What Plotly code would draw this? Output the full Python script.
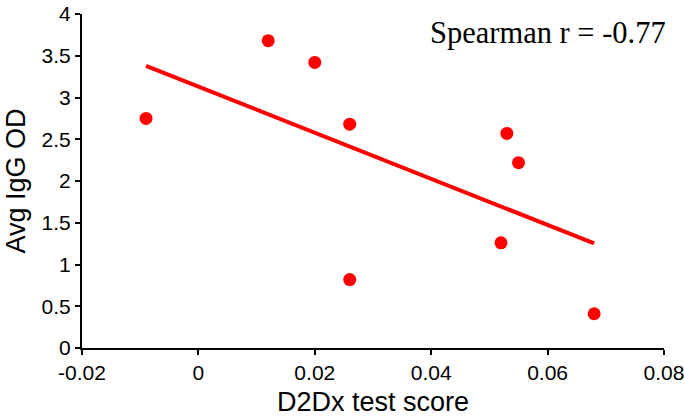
import numpy as np
import plotly.graph_objects as go

# Data
d2dx_score = [-0.009, 0.012, 0.020, 0.026, 0.026, 0.053, 0.055, 0.052, 0.068]
avg_igg_od = [2.75, 3.68, 3.42, 2.68, 0.82, 2.57, 2.22, 1.26, 0.41]

x_tickvals = [-0.02, 0, 0.02, 0.04, 0.06, 0.08]
x_ticktext = ["-0.02", "0", "0.02", "0.04", "0.06", "0.08"]
y_tickvals = [0, 0.5, 1, 1.5, 2, 2.5, 3, 3.5, 4]
y_ticktext = ["0", "0.5", "1", "1.5", "2", "2.5", "3", "3.5", "4"]

annotation_text = "Spearman r = -0.77"

# Linear trendline fitted to the data
slope, intercept = np.polyfit(d2dx_score, avg_igg_od, 1)
fit_x = [min(d2dx_score), max(d2dx_score)]
fit_y = [slope * v + intercept for v in fit_x]

fig = go.Figure()
fig.add_trace(go.Scatter(
    x=fit_x, y=fit_y, mode="lines",
    line=dict(color="#ff0000", width=4),
    hoverinfo="skip", showlegend=False,
))
fig.add_trace(go.Scatter(
    x=d2dx_score, y=avg_igg_od, mode="markers",
    marker=dict(color="#ff0000", size=13, line=dict(width=0)),
    showlegend=False,
))

axis_font = dict(family="Liberation Sans, Arial, sans-serif", size=21, color="black")
title_font = dict(family="Liberation Sans, Arial, sans-serif", size=27, color="black")

fig.update_layout(
    template="none",
    width=685, height=420,
    margin=dict(l=82, r=21, t=14, b=72, pad=0),
    paper_bgcolor="white", plot_bgcolor="white",
    xaxis=dict(
        range=[-0.02, 0.08], tickvals=x_tickvals, ticktext=x_ticktext,
        showline=True, linecolor="black", linewidth=2,
        ticks="outside", ticklen=5, tickwidth=2, tickcolor="black",
        showgrid=False, zeroline=False, tickfont=axis_font, automargin=False,
        ticklabeloverflow="allow",
        title=dict(text="D2Dx test score", font=title_font, standoff=9),
    ),
    yaxis=dict(
        range=[0, 4], tickvals=y_tickvals, ticktext=y_ticktext,
        showline=True, linecolor="black", linewidth=2,
        ticks="outside", ticklen=5, tickwidth=2, tickcolor="black",
        showgrid=False, zeroline=False, tickfont=axis_font, automargin=False,
        ticklabeloverflow="allow",
        title=dict(text="Avg IgG OD", font=title_font, standoff=8),
    ),
    annotations=[dict(
        text=annotation_text, xref="paper", yref="paper",
        x=1.007, y=0.999, xanchor="right", yanchor="top", showarrow=False,
        font=dict(family="Liberation Serif, Times New Roman, serif", size=30.5, color="black"),
    )],
)

# Remove the default page margin so the figure sits at the window's corner.
fig.write_html(
    "out.html",
    config={"displayModeBar": False},
    post_script="document.body.style.margin='0';",
)
